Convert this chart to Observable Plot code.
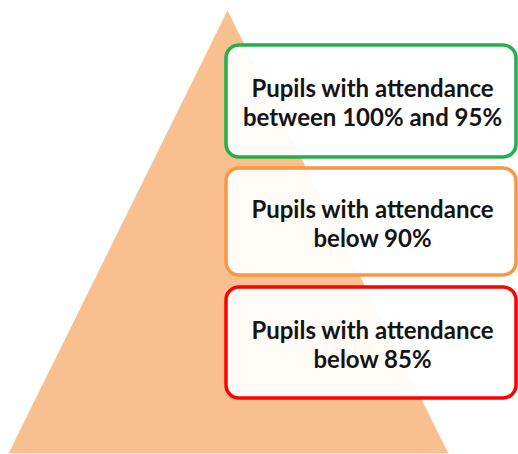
<!DOCTYPE html>
<html>
<head>
<meta charset="utf-8">
<script src="https://cdn.jsdelivr.net/npm/d3@7"></script>
<script src="https://cdn.jsdelivr.net/npm/@observablehq/plot@0.6"></script>
<style>
  html, body { margin: 0; padding: 0; background: #fff; }
  #chart { width: 518px; height: 454px; }
</style>
</head>
<body>
<div id="chart"></div>
<script>
// Tier labels (top to bottom) and their border colours
const labels = [
  "Pupils with attendance\nbetween 100% and 95%",
  "Pupils with attendance\nbelow 90%",
  "Pupils with attendance\nbelow 85%"
];
const borderColors = ["#22B04B", "#F79646", "#FF0000"];
// Box vertical extents (top, bottom) in picture units
const boxTops = [45, 168, 287];
const boxBottoms = [157, 275, 398];
// Triangle outline (apex, base-left, base-right)
const triangleX = [227, 8, 448];
const triangleY = [10, 453, 453];

const triangle = triangleX.map((x, i) => ({x, y: triangleY[i]}));
const boxes = labels.map((label, i) => ({
  label,
  color: borderColors[i],
  x1: 226, x2: 516,
  y1: boxTops[i], y2: boxBottoms[i],
  yc: (boxTops[i] + boxBottoms[i]) / 2 + 1,
  xc: 372
}));

const chart = Plot.plot({
  width: 518,
  height: 454,
  margin: 0,
  x: {domain: [0, 518], axis: null},
  y: {domain: [0, 454], reverse: true, axis: null},
  style: {background: "#fff"},
  marks: [
    Plot.line(triangle, {x: "x", y: "y", fill: "#F8C08F", stroke: "none", curve: "linear-closed"}),
    Plot.rect(boxes, {
      x1: "x1", x2: "x2", y1: "y1", y2: "y2",
      fill: "#ffffff", fillOpacity: 0.93,
      stroke: "color", strokeWidth: 3.5, rx: 13
    }),
    Plot.text(boxes, {
      x: "xc", y: "yc", text: "label",
      fontSize: 24, fontWeight: "bold", fontFamily: "Lato",
      fill: "#141414", lineHeight: 1.21, textAnchor: "middle", lineAnchor: "middle"
    })
  ]
});
document.getElementById("chart").appendChild(chart);
</script>
</body>
</html>
